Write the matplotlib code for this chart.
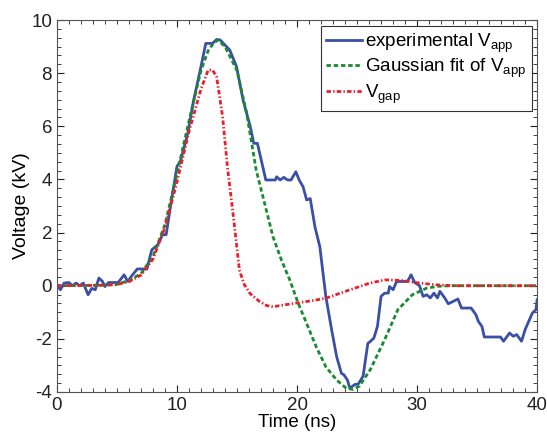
import numpy as np
import matplotlib.pyplot as plt
from matplotlib.ticker import MultipleLocator

plt.rcParams['font.family'] = ['Liberation Sans', 'DejaVu Sans']
plt.rcParams['mathtext.fontset'] = 'custom'
plt.rcParams['mathtext.rm'] = 'Liberation Sans'
plt.rcParams['axes.unicode_minus'] = False

# experimental V_app (ns, kV)
t_exp = [0, 0.3, 0.6, 1.0, 1.3, 1.6, 1.9, 2.2, 2.6, 2.9, 3.2, 3.5, 3.8, 4.0, 4.3, 5.1,
         5.6, 5.9, 6.3, 6.7, 7.5, 7.9, 8.4, 8.8, 9.1, 9.5, 10.0, 10.3, 10.9, 11.4, 12.0,
         12.4, 12.96, 13.3, 13.6, 14.4, 14.96, 15.5, 16.1, 16.4, 16.7, 17.4, 18.2, 18.3,
         18.6, 18.9, 19.2, 19.5, 19.9, 20.2, 20.5, 20.8, 21.1, 21.5, 21.9, 22.4, 22.9,
         23.3, 23.7, 23.9, 24.2, 24.4, 24.8, 25.1, 25.5, 25.9, 26.1, 26.4, 26.7, 27.0,
         27.3, 27.6, 27.7, 28.0, 28.3, 29.2, 29.5, 29.8, 30.2, 30.5, 30.8, 31.1, 31.4,
         31.7, 31.9, 32.3, 32.6, 33.0, 33.4, 33.7, 34.5, 34.9, 35.1, 35.4, 35.6, 36.95,
         37.2, 37.7, 38.0, 38.3, 38.7, 39.0, 39.3, 39.6, 39.9, 40.0]
v_exp = [0, -0.15, 0.1, 0.12, 0, 0.1, 0, 0.1, -0.34, -0.1, -0.15, 0.29, 0.16, -0.03, 0.12, 0.12,
         0.41, 0.16, 0.41, 0.63, 0.63, 1.35, 1.54, 1.92, 1.92, 3.1, 4.49, 4.7, 5.74, 7.0, 8.25,
         9.12, 9.12, 9.27, 9.25, 8.87, 8.25, 7.0, 6.0, 5.36, 5.36, 3.98, 3.98, 4.1,
         3.98, 4.08, 3.98, 3.98, 4.29, 3.96, 3.73, 3.23, 3.28, 2.2, 1.47, -0.41, -1.7,
         -2.67, -3.3, -3.35, -3.55, -3.86, -3.72, -3.7, -3.41, -2.17, -2.1, -1.97, -1.53, -0.4,
         -0.28, -0.28, -0.03, -0.15, 0.16, 0.16, 0.41, 0.12, 0, -0.4, -0.34, -0.46, -0.28,
         -0.46, -0.21, -0.46, -0.68, -0.59, -0.5, -0.84, -0.84, -1.09, -1.34, -1.53, -1.93, -1.93,
         -2.09, -1.78, -1.9, -1.84, -2.09, -1.65, -1.34, -1.03, -0.9, -0.53]

# Gaussian fit of V_app
t_fit = [0, 4, 5, 6, 7, 8, 9, 10, 11, 12, 12.6, 13, 13.4, 14, 15, 15.8, 16.6, 17.3, 18.0,
         18.7, 19.4, 20.1, 20.8, 21.6, 22.4, 23.3, 24.1, 24.65, 25.2, 26.1, 27.3, 28.4,
         29.6, 30.8, 31.8, 32.8, 40]
v_fit = [0, 0.02, 0.05, 0.2, 0.45, 1.1, 2.3, 4.2, 6.2, 8.1, 8.85, 9.1, 9.25, 9.0, 8.1, 6.5,
         4.35, 3.1, 1.84, 0.97, 0.21, -0.66, -1.42, -2.3, -3.05, -3.55, -3.86, -3.9, -3.78,
         -3.16, -2.03, -0.9, -0.34, -0.09, -0.02, 0, 0]

# V_gap
t_gap = [0, 4, 5, 6, 7, 8, 9, 10, 11, 12, 12.6, 12.96, 13.3, 13.8, 14.2, 14.7, 15.2,
         15.6, 16.1, 16.9, 17.5, 18.0, 18.7, 20.1, 21.3, 22.4, 24.3, 26.0, 27.3, 28.7,
         30.2, 31.7, 33.1, 40]
v_gap = [0, 0.02, 0.05, 0.15, 0.4, 1.0, 2.2, 3.9, 5.8, 7.4, 8.12, 8.12, 7.87, 6.37, 4.49,
         2.6, 0.59, 0.05, -0.3, -0.6, -0.75, -0.79, -0.74, -0.64, -0.56, -0.47, -0.17, 0.09,
         0.22, 0.2, 0.1, 0.03, 0, 0]

fig = plt.figure(figsize=(5.47, 4.33), dpi=100)
ax = fig.add_axes([0.104, 0.0947, 0.878, 0.859])

ax.plot(t_exp, v_exp, '-', color='#3a4fa6', lw=2.0, label=r'experimental V$_{\mathrm{app}}$')
ax.plot(t_fit, v_fit, '--', color='#1a8a30', lw=2.0, dashes=(1.6, 1.0),
        label=r'Gaussian fit of V$_{\mathrm{app}}$')
ax.plot(t_gap, v_gap, '-.', color='#e8202a', lw=2.0, dashes=(1.6, 0.8, 0.5, 0.8),
        label=r'V$_{\mathrm{gap}}$')

ax.set_xlim(0, 40)
ax.set_ylim(-4, 10)
ax.xaxis.set_major_locator(MultipleLocator(10))
ax.xaxis.set_minor_locator(MultipleLocator(1))
ax.yaxis.set_major_locator(MultipleLocator(2))
ax.yaxis.set_minor_locator(MultipleLocator(1 / 3))
ax.tick_params(which='both', direction='in', top=True, right=True, labelsize=13.5, colors='#222222')
ax.tick_params(which='major', length=5)
ax.tick_params(which='minor', length=3)
for s in ax.spines.values():
    s.set_color('#555555')

ax.set_xlabel('Time (ns)', fontsize=13.5, labelpad=0)
ax.set_ylabel('Voltage (kV)', fontsize=14, labelpad=1)

leg = ax.legend(loc='upper right', fontsize=13.5, fancybox=False, framealpha=1,
                edgecolor='#333333', handlelength=1.9, handletextpad=0.15,
                borderaxespad=0.3, labelspacing=0.1, borderpad=0.3)
leg.get_frame().set_linewidth(0.8)

fig.savefig('out.png', dpi=100)
